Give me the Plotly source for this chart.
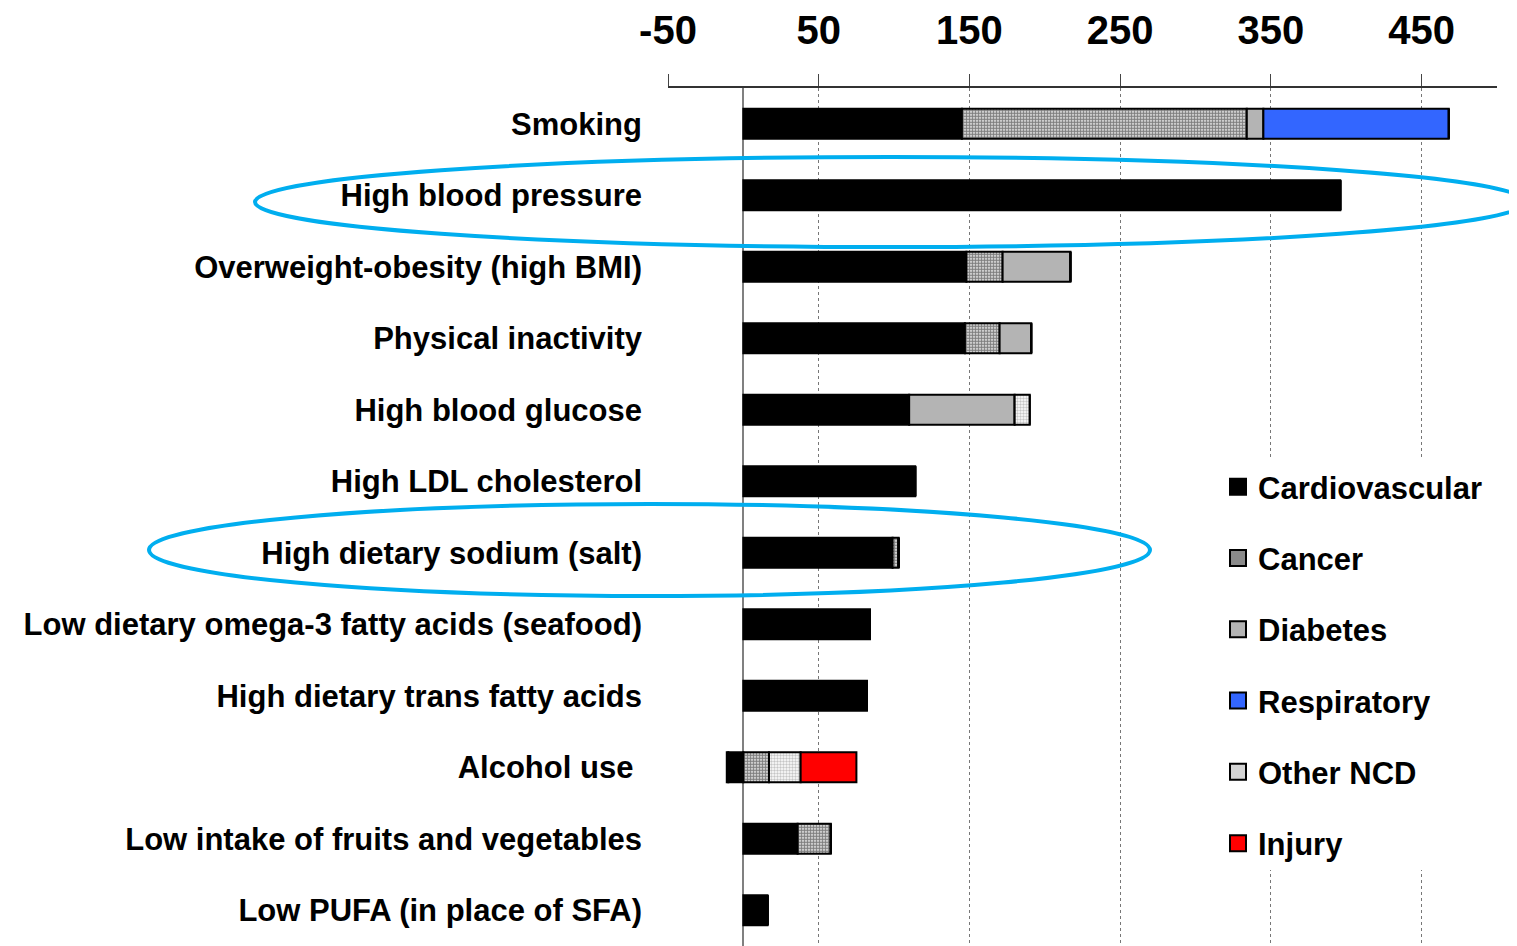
"""
Deaths attributable to risk factors, stacked by cause (horizontal bars).
"""

import plotly.graph_objects as go

# ─── Data ───────────────────────────────────────────────────────────────────
risk_factors = [
    "Smoking",
    "High blood pressure",
    "Overweight-obesity (high BMI)",
    "Physical inactivity",
    "High blood glucose",
    "High LDL cholesterol",
    "High dietary sodium (salt)",
    "Low dietary omega-3 fatty acids (seafood)",
    "High dietary trans fatty acids",
    "Alcohol use\u00a0",
    "Low intake of fruits and vegetables",
    "Low PUFA (in place of SFA)",
]

cardiovascular = [145, 396, 148, 147, 110, 114, 99, 84, 82, -10, 36, 16]
cancer = [189, 0, 24, 23, 0, 0, 4, 0, 0, 17, 22, 0]
diabetes = [11, 0, 45, 21, 70, 0, 0, 0, 0, -1, 0, 0]
respiratory = [123, 0, 0, 0, 0, 0, 0, 0, 0, 0, 0, 0]
other_ncd = [0, 0, 0, 0, 10, 0, 0, 0, 0, 21, 0, 0]
injury = [0, 0, 0, 0, 0, 0, 0, 0, 0, 37, 0, 0]

tick_vals = [-50, 50, 150, 250, 350, 450]
tick_text = ["-50", "50", "150", "250", "350", "450"]

# ─── Styling ────────────────────────────────────────────────────────────────
W, H = 1517, 946
OFF = 8  # page body margin
M_L, M_R, M_T, M_B = 660, 28, 80, 8
FONT = "Arial, Liberation Sans, sans-serif"
ELLIPSE = "#00AEEF"

# (name, values, bar marker, legend swatch colour)
series = [
    ("Cardiovascular", cardiovascular, dict(color="#000000"), "#000000"),
    ("Cancer", cancer, dict(color="#ffffff", pattern=dict(
        shape=".", fgcolor="#000000", bgcolor="#ffffff", size=3, solidity=0.7)),
     "#8a8a8a"),
    ("Diabetes", diabetes, dict(color="#b4b4b4"), "#b4b4b4"),
    ("Respiratory", respiratory, dict(color="#3366ff"), "#3366ff"),
    ("Other NCD", other_ncd, dict(color="#ffffff", pattern=dict(
        shape=".", fgcolor="#8c8c8c", bgcolor="#ffffff", size=3, solidity=0.5)),
     "#d4d4d4"),
    ("Injury", injury, dict(color="#ff0000"), "#ff0000"),
]


def px_to_paper(x, y):
    """Convert page pixel coordinates to paper coordinates."""
    pw = W - M_L - M_R
    ph = H - M_T - M_B
    return (x - OFF - M_L) / pw, (H - M_B - (y - OFF)) / ph


fig = go.Figure()
for i, (name, vals, marker, swatch) in enumerate(series):
    fig.add_trace(go.Bar(
        name=name,
        y=risk_factors,
        x=vals,
        orientation="h",
        marker=dict(**marker, line=dict(color="#000000", width=2)),
        legendgroup=f"g{i}",
        showlegend=False,
    ))
    # larger square swatch for the legend
    fig.add_trace(go.Scatter(
        name=name,
        x=[None],
        y=[None],
        mode="markers",
        marker=dict(symbol="square", size=16, color=swatch,
                    line=dict(color="#000000", width=2)),
        legendgroup=f"g{i}",
    ))

# blue highlight ellipses
for (x0, y0, x1, y1) in [(255, 157, 1526, 247), (149, 504, 1150, 596)]:
    px0, py1 = px_to_paper(x0, y0)
    px1, py0 = px_to_paper(x1, y1)
    fig.add_shape(type="circle", xref="paper", yref="paper",
                  x0=px0, x1=px1, y0=py0, y1=py1,
                  line=dict(color=ELLIPSE, width=4), layer="above")

lx, ly = px_to_paper(1218, 460)

fig.update_layout(
    width=W,
    height=H,
    barmode="relative",
    bargap=0.58,
    paper_bgcolor="white",
    plot_bgcolor="white",
    margin=dict(l=M_L, r=M_R, t=M_T, b=M_B, autoexpand=False),
    font=dict(family=FONT, color="#000000", size=31, weight="bold"),
    showlegend=True,
    legend=dict(
        x=lx, y=ly, xanchor="left", yanchor="top",
        bgcolor="white",
        traceorder="grouped",
        tracegroupgap=28,
        font=dict(family=FONT, size=31, weight="bold"),
        itemwidth=30,
    ),
    xaxis=dict(
        side="top",
        range=[-50, 500],
        tickvals=tick_vals,
        ticktext=tick_text,
        tickfont=dict(family=FONT, size=40, weight="bold"),
        ticks="outside",
        ticklen=12,
        tickcolor="#444444",
        ticklabelstandoff=14,
        automargin=False,
        showline=True,
        linecolor="#333333",
        linewidth=2,
        showgrid=True,
        gridcolor="#777777",
        griddash="dot",
        gridwidth=1,
        zeroline=True,
        zerolinecolor="#808080",
        zerolinewidth=2,
    ),
    yaxis=dict(
        autorange="reversed",
        automargin=False,
        showline=False,
        showgrid=False,
        ticks="",
        ticklabelstandoff=25,
        tickfont=dict(family=FONT, size=31, weight="bold"),
    ),
)

fig.write_html("out.html")
